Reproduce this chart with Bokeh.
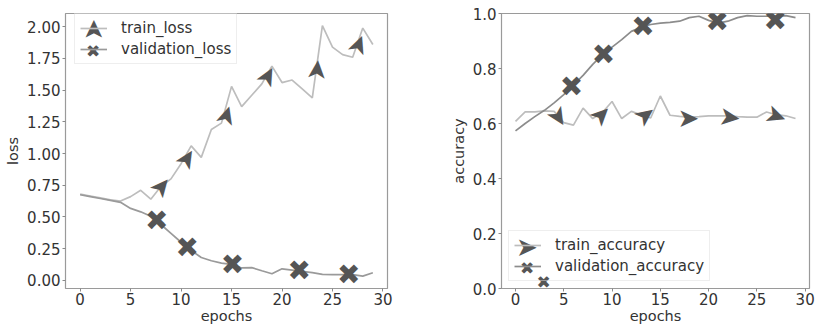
from bokeh.plotting import figure
from bokeh.models import Range1d, FixedTicker, NumeralTickFormatter, Legend, LegendItem, Label
from bokeh.layouts import row
from bokeh.embed import file_html
from bokeh.resources import INLINE
from bokeh.core.properties import value

# ---------------- data ----------------
epochs = list(range(30))
train_loss = [0.68, 0.665, 0.65, 0.635, 0.625, 0.66, 0.71, 0.64, 0.74, 0.80,
              0.92, 1.06, 0.97, 1.19, 1.24, 1.53, 1.37, 1.46, 1.55, 1.69,
              1.56, 1.58, 1.51, 1.44, 2.01, 1.84, 1.78, 1.76, 1.99, 1.86]
validation_loss = [0.675, 0.66, 0.645, 0.63, 0.615, 0.567, 0.54, 0.505, 0.44, 0.37,
                   0.30, 0.235, 0.18, 0.154, 0.135, 0.125, 0.097, 0.10, 0.075, 0.051,
                   0.09, 0.08, 0.07, 0.06, 0.046, 0.045, 0.045, 0.045, 0.033, 0.059]
train_accuracy = [0.608, 0.642, 0.642, 0.646, 0.644, 0.603, 0.594, 0.656, 0.618, 0.64,
                  0.68, 0.618, 0.644, 0.632, 0.62, 0.70, 0.63, 0.626, 0.623, 0.625,
                  0.628, 0.628, 0.628, 0.625, 0.623, 0.623, 0.642, 0.632, 0.628, 0.618]
validation_accuracy = [0.573, 0.60, 0.625, 0.648, 0.675, 0.705, 0.74, 0.775, 0.815, 0.85,
                       0.878, 0.905, 0.935, 0.95, 0.96, 0.965, 0.968, 0.972, 0.985, 0.99,
                       0.975, 0.965, 0.972, 0.985, 0.992, 0.99, 0.99, 0.99, 0.992, 0.985]

# marker placements (as drawn along the lines)
loss_arrow_epochs = [8.0, 10.5, 14.4, 18.5, 23.4, 27.5]
loss_arrow_values = [0.74, 0.96, 1.30, 1.61, 1.66, 1.86]
loss_arrow_angles = [50, 58, 73, 61, 85, 69]
loss_x_epochs = [7.6, 10.6, 15.1, 21.7, 26.6]
loss_x_values = [0.47, 0.26, 0.125, 0.077, 0.045]

acc_arrow_epochs = [4.5, 8.8, 13.4, 17.9, 22.2, 27.0]
acc_arrow_values = [0.626, 0.632, 0.632, 0.62, 0.625, 0.63]
acc_arrow_angles = [-58, 45, 37, 0, -7, -20]
acc_x_epochs = [5.8, 9.1, 13.2, 20.9, 26.9]
acc_x_values = [0.733, 0.852, 0.952, 0.970, 0.976]
stray_x_epoch = 2.9
stray_x_value = 0.025

epoch_ticks = [0, 5, 10, 15, 20, 25, 30]
loss_ticks = [0.0, 0.25, 0.5, 0.75, 1.0, 1.25, 1.5, 1.75, 2.0]
acc_ticks = [0.0, 0.2, 0.4, 0.6, 0.8, 1.0]

# ---------------- style ----------------
FONT = "DejaVu Sans"
FS = "15px"
TXT = "#333333"
LIGHT = "#bdbdbd"
MID = "#9a9a9a"
MARK = "#555555"
ARROW = "\u27A4"
XMARK = "\u2716"

H = 326
TOP = 13
BOTTOM = 35
FH = H - TOP - BOTTOM           # frame height in pixels
PAD = 5
GW = 27
IH = 18
SP = 3
LH = 2 * PAD + 2 * IH + SP      # legend box height


def style(p, yticks, yfmt):
    p.xgrid.visible = False
    p.ygrid.visible = False
    p.outline_line_color = "#9a9a9a"
    p.outline_line_width = 1.2
    p.xaxis.ticker = FixedTicker(ticks=epoch_ticks)
    p.yaxis.ticker = FixedTicker(ticks=yticks)
    p.yaxis.formatter = NumeralTickFormatter(format=yfmt)
    for ax in p.axis:
        ax.axis_line_color = None
        ax.major_tick_line_color = "#8a8a8a"
        ax.major_tick_in = 0
        ax.major_tick_out = 3
        ax.minor_tick_line_color = None
        ax.major_label_text_font = FONT
        ax.major_label_text_font_size = FS
        ax.major_label_text_color = TXT
        ax.axis_label_text_font = FONT
        ax.axis_label_text_font_size = "14.5px"
        ax.axis_label_text_font_style = "normal"
        ax.axis_label_text_color = TXT
    p.xaxis.major_label_standoff = 1
    p.xaxis.axis_label_standoff = 0
    p.yaxis.major_label_standoff = 2
    p.yaxis.axis_label_standoff = 3
    p.xaxis.axis_label = "epochs"


def legend(p, items, loc):
    lg = Legend(items=items, location=loc, margin=0, padding=PAD,
                glyph_width=GW, glyph_height=IH, label_height=IH, spacing=SP,
                label_standoff=14, label_text_font=FONT, label_text_font_size=FS,
                label_text_color=TXT, border_line_color="#dddddd", border_line_width=1,
                background_fill_alpha=0)
    p.add_layout(lg)


def marker_label(p, x, y, text, size, angle=0):
    p.add_layout(Label(x=x, y=y, x_units="screen", y_units="screen", text=text,
                       angle=angle, angle_units="deg", text_align="center",
                       text_baseline="middle", text_font=FONT, text_font_size=size,
                       text_color=MARK, level="overlay"))


# ---------------- left: loss ----------------
p1 = figure(width=420, height=H, output_backend="svg", toolbar_location=None,
            x_range=Range1d(-1.45, 30.45), y_range=Range1d(-0.065, 2.105),
            min_border_left=65, min_border_right=33, min_border_top=TOP, min_border_bottom=BOTTOM)
style(p1, loss_ticks, "0.00")
p1.yaxis.axis_label = "loss"
l_tr = p1.line(epochs, train_loss, line_color=LIGHT, line_width=1.7)
l_va = p1.line(epochs, validation_loss, line_color=MID, line_width=1.7)
p1.text(loss_arrow_epochs, loss_arrow_values, text=[ARROW] * len(loss_arrow_epochs),
        angle=loss_arrow_angles, angle_units="deg", text_align="center", text_baseline="middle",
        text_font=value(FONT), text_font_size="26px", text_color=MARK)
p1.text(loss_x_epochs, loss_x_values, text=[XMARK] * len(loss_x_epochs),
        text_align="center", text_baseline="middle",
        text_font=value(FONT), text_font_size="28px", text_color=MARK)
lx1, ltop1 = 9, 5
legend(p1, [LegendItem(label="train_loss", renderers=[l_tr]),
            LegendItem(label="validation_loss", renderers=[l_va])], (lx1, FH - ltop1 - LH))
gx1 = lx1 + PAD + GW / 2
marker_label(p1, gx1, FH - ltop1 - PAD - IH / 2, ARROW, "26px", 90)
marker_label(p1, gx1, FH - ltop1 - PAD - IH - SP - IH / 2, XMARK, "17px")

# ---------------- right: accuracy ----------------
p2 = figure(width=395, height=H, output_backend="svg", toolbar_location=None,
            x_range=Range1d(-1.45, 30.45), y_range=Range1d(0, 1.0),
            min_border_left=81, min_border_right=6, min_border_top=TOP, min_border_bottom=BOTTOM)
style(p2, acc_ticks, "0.0")
p2.yaxis.axis_label = "accuracy"
a_tr = p2.line(epochs, train_accuracy, line_color=LIGHT, line_width=1.7)
a_va = p2.line(epochs, validation_accuracy, line_color="#8c8c8c", line_width=1.7)
p2.text(acc_arrow_epochs, acc_arrow_values, text=[ARROW] * len(acc_arrow_epochs),
        angle=acc_arrow_angles, angle_units="deg", text_align="center", text_baseline="middle",
        text_font=value(FONT), text_font_size="26px", text_color=MARK)
p2.text(acc_x_epochs, acc_x_values, text=[XMARK] * len(acc_x_epochs),
        text_align="center", text_baseline="middle",
        text_font=value(FONT), text_font_size="28px", text_color=MARK)
lx2, lbot2 = 7, 7
legend(p2, [LegendItem(label="train_accuracy", renderers=[a_tr]),
            LegendItem(label="validation_accuracy", renderers=[a_va])], (lx2, lbot2))
gx2 = lx2 + PAD + GW / 2
marker_label(p2, gx2, lbot2 + PAD + IH + SP + IH / 2, ARROW, "26px", 0)
marker_label(p2, gx2, lbot2 + PAD + IH / 2, XMARK, "17px")
p2.add_layout(Label(x=stray_x_epoch, y=stray_x_value, text=XMARK, text_align="center",
                    text_baseline="middle", text_font=FONT, text_font_size="17px",
                    text_color=MARK, level="overlay"))

layout = row(p1, p2)
open("out.html", "w").write(file_html(layout, INLINE))
